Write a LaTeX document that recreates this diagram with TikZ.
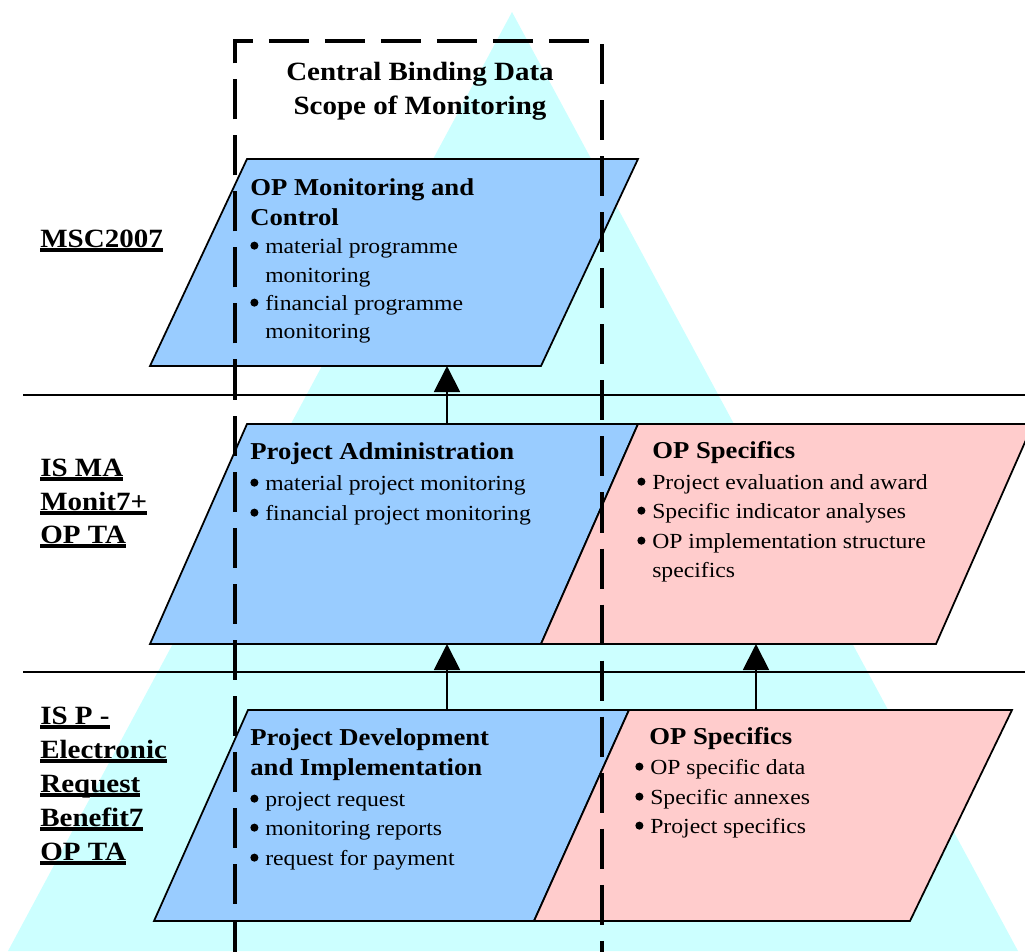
\documentclass[tikz,border=0pt]{standalone}
\usepackage{fontspec}
\setmainfont{Liberation Serif}[FakeStretch=1.1]
\usetikzlibrary{arrows.meta}

\definecolor{pyramid}{HTML}{CCFFFF}
\definecolor{boxblue}{HTML}{99CCFF}
\definecolor{boxpink}{HTML}{FFCCCC}

% bullet with hanging text
\newcommand\bl{\makebox[8.5pt][l]{\tikz[baseline=-4.2pt]\fill (0,0) circle (2.3pt);}}
\newcommand\hang{\hspace*{8.5pt}}
% thick underline for the level names
\newcommand\lvl[1]{\setbox0\hbox{#1}\rlap{\rule[-2.7pt]{\wd0}{1.9pt}}\box0}

\begin{document}
\begin{tikzpicture}[x=0.02cm,y=-0.02cm,
  txt/.style={anchor=base west,inner sep=0pt,font=\fontsize{12.25}{14}\selectfont},
  head/.style={anchor=base west,inner sep=0pt,font=\fontsize{13.8}{16}\selectfont\bfseries},
  lbl/.style={anchor=base west,inner sep=0pt,font=\fontsize{15}{18}\selectfont\bfseries},
  bluebox/.style={fill=boxblue,draw=black,line width=1pt},
  pinkbox/.style={fill=boxpink,draw=black,line width=1pt},
  up/.style={-{Triangle[length=0.52cm,width=0.52cm]},line width=1.1pt}]

  \clip (0,0) rectangle (1025,951);

  % pyramid and level lines
  \fill[pyramid] (512,12) -- (1018,951) -- (8,951) -- cycle;
  \draw[line width=1.1pt] (23,395) -- (1025,395);
  \draw[line width=1.1pt] (23,672) -- (1025,672);

  % boxes
  \draw[bluebox] (247,159) -- (638,159) -- (541,366) -- (150,366) -- cycle;
  \draw[bluebox] (247,424) -- (638,424) -- (541,644) -- (150,644) -- cycle;
  \draw[pinkbox] (638,424) -- (1033,424) -- (936,644) -- (541,644) -- cycle;
  \draw[bluebox] (248,710) -- (629,710) -- (534,921) -- (154,921) -- cycle;
  \draw[pinkbox] (629,710) -- (1012,710) -- (910,921) -- (534,921) -- cycle;

  % arrow ends
  \coordinate (mon-s) at (447,366);
  \coordinate (adm-n) at (447,424);
  \coordinate (adm-s) at (447,644);
  \coordinate (dev-n) at (447,710);
  \coordinate (spa-s) at (756,644);
  \coordinate (spb-n) at (756,710);

  \draw[up] (adm-n) -- (mon-s);
  \draw[up] (dev-n) -- (adm-s);
  \draw[up] (spb-n) -- (spa-s);

  % scope of monitoring
  \draw[line width=2.3pt,dash pattern=on 22.8pt off 9.1pt]
    (235,960) -- (235,41) -- (602,41) -- (602,960);
  \node[lbl,anchor=base] at(420,80)(title1){Central Binding Data};
  \node[lbl,anchor=base] at(420,114)(title2){Scope of Monitoring};

  % levels
  \node[lbl] at(40,247)(lab-msc){\lvl{MSC2007}};
  \node[lbl] at(40,476)(lab-isma1){\lvl{IS MA}};
  \node[lbl] at(40,510)(lab-isma2){\lvl{Monit7+}};
  \node[lbl] at(40,543)(lab-isma3){\lvl{OP TA}};
  \node[lbl] at(40,724)(lab-isp1){\lvl{IS P -}};
  \node[lbl] at(40,758)(lab-isp2){\lvl{Electronic}};
  \node[lbl] at(40,792)(lab-isp3){\lvl{Request}};
  \node[lbl] at(40,826)(lab-isp4){\lvl{Benefit7}};
  \node[lbl] at(40,860)(lab-isp5){\lvl{OP TA}};

  % OP monitoring
  \node[head] at(250,195)(mon-h1){OP Monitoring and};
  \node[head] at(250,225)(mon-h2){Control};
  \node[txt] at(250,253)(mon-b1){\bl material programme};
  \node[txt] at(250,282)(mon-b2){\hang monitoring};
  \node[txt] at(250,310)(mon-b3){\bl financial programme};
  \node[txt] at(250,338)(mon-b4){\hang monitoring};

  % project administration
  \node[head] at(250,459)(adm-h){Project Administration};
  \node[txt] at(250,490)(adm-b1){\bl material project monitoring};
  \node[txt] at(250,520)(adm-b2){\bl financial project monitoring};

  % OP specifics, middle
  \node[head] at(652,458)(spa-h){OP Specifics};
  \node[txt] at(637,489)(spa-b1){\bl Project evaluation and award};
  \node[txt] at(637,518)(spa-b2){\bl Specific indicator analyses};
  \node[txt] at(637,548)(spa-b3){\bl OP implementation structure};
  \node[txt] at(637,577)(spa-b4){\hang specifics};

  % project development
  \node[head] at(250,745)(dev-h1){Project Development};
  \node[head] at(250,775)(dev-h2){and Implementation};
  \node[txt] at(250,806)(dev-b1){\bl project request};
  \node[txt] at(250,835)(dev-b2){\bl monitoring reports};
  \node[txt] at(250,865)(dev-b3){\bl request for payment};

  % OP specifics, bottom
  \node[head] at(649,744)(spb-h){OP Specifics};
  \node[txt] at(635,774)(spb-b1){\bl OP specific data};
  \node[txt] at(635,804)(spb-b2){\bl Specific annexes};
  \node[txt] at(635,833)(spb-b3){\bl Project specifics};

\end{tikzpicture}
\end{document}
